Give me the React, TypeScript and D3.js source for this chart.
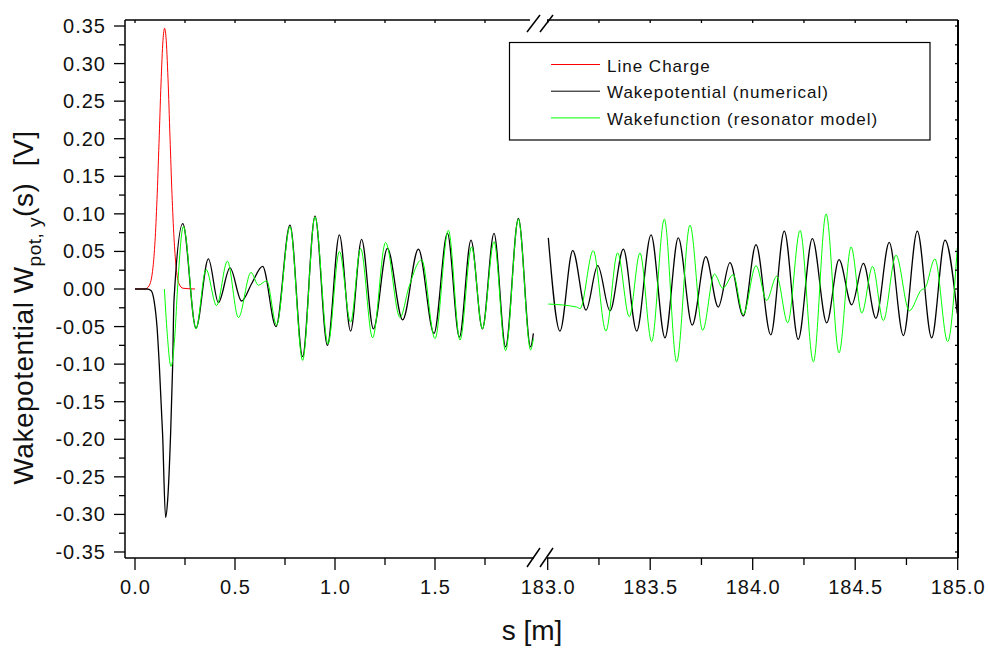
import React from "react";
import * as d3 from "d3";

// ---------- DATA ----------
const lineChargeLeft: [number, number][] = [
  [0, 0], [0.05, 0], [0.07, 0.004], [0.09, 0.029], [0.1, 0.063], [0.11, 0.119], [0.12, 0.194],
  [0.13, 0.273], [0.14, 0.331], [0.148, 0.347], [0.155, 0.335], [0.165, 0.28], [0.175, 0.202],
  [0.185, 0.126], [0.195, 0.068], [0.205, 0.031], [0.22, 0.007], [0.24, 0.001], [0.3, 0],
];

const wakeNumLeft: [number, number][] = [
  [0, 0], [0.06, 0], [0.08, -0.002], [0.095, -0.015], [0.11, -0.05], [0.122, -0.104], [0.138, -0.193],
  [0.153, -0.304], [0.163, -0.282], [0.178, -0.193], [0.188, -0.104], [0.195, -0.015], [0.239, 0.087],
  [0.305, -0.052], [0.367, 0.04], [0.417, -0.018], [0.475, 0.028], [0.533, -0.016], [0.585, 0.008],
  [0.638, 0.03], [0.705, -0.05], [0.775, 0.085], [0.838, -0.09], [0.9, 0.097], [0.962, -0.075],
  [1.022, 0.072], [1.078, -0.056], [1.133, 0.066], [1.192, -0.053], [1.262, 0.054], [1.338, -0.041],
  [1.417, 0.053], [1.495, -0.059], [1.562, 0.074], [1.622, -0.064], [1.68, 0.065], [1.737, -0.053],
  [1.795, 0.074], [1.853, -0.077], [1.917, 0.094], [1.978, -0.077], [1.992, -0.059],
];

const wakeResLeft: [number, number][] = [
  [0.147, 0], [0.161, -0.059], [0.18, -0.103], [0.2, -0.059], [0.2125, 0], [0.242, 0.083],
  [0.305, -0.053], [0.355, 0.026], [0.408, -0.022], [0.462, 0.037], [0.517, -0.038], [0.58, 0.022],
  [0.617, 0.005], [0.658, 0.011], [0.708, -0.048], [0.775, 0.083], [0.838, -0.095], [0.9, 0.096],
  [0.965, -0.073], [1.022, 0.05], [1.078, -0.044], [1.128, 0.054], [1.188, -0.065], [1.253, 0.062],
  [1.325, -0.038], [1.37, 0.003], [1.433, 0.039], [1.5, -0.066], [1.567, 0.078], [1.625, -0.068],
  [1.683, 0.056], [1.737, -0.053], [1.795, 0.063], [1.853, -0.082], [1.917, 0.093], [1.978, -0.081],
  [1.992, -0.066],
];

const wakeNumRight: [number, number][] = [
  [183.003, 0.068], [183.06, -0.056], [183.122, 0.051], [183.187, -0.028], [183.244, 0.031],
  [183.304, -0.029], [183.369, 0.053], [183.434, -0.056], [183.504, 0.072], [183.572, -0.065],
  [183.637, 0.068], [183.705, -0.048], [183.771, 0.043], [183.832, -0.024], [183.889, 0.035],
  [183.954, -0.036], [184.016, 0.059], [184.088, -0.061], [184.154, 0.077], [184.222, -0.067],
  [184.291, 0.067], [184.361, -0.045], [184.421, 0.039], [184.483, -0.021], [184.54, 0.034],
  [184.601, -0.039], [184.666, 0.062], [184.735, -0.062], [184.803, 0.077], [184.873, -0.065],
  [184.938, 0.065], [184.998, -0.033],
];

const wakeResRight: [number, number][] = [
  [183.003, -0.02], [183.141, -0.024], [183.158, -0.026], [183.222, 0.051], [183.284, -0.056],
  [183.341, 0.048], [183.398, -0.037], [183.45, 0.048], [183.507, -0.07], [183.569, 0.093],
  [183.629, -0.097], [183.694, 0.085], [183.756, -0.055], [183.813, 0.02], [183.854, 0.001],
  [183.905, 0.019], [183.954, -0.034], [184.016, 0.031], [184.068, -0.015], [184.117, 0.017],
  [184.171, -0.045], [184.231, 0.078], [184.296, -0.097], [184.358, 0.1], [184.421, -0.085],
  [184.48, 0.056], [184.532, -0.032], [184.585, 0.03], [184.637, -0.042], [184.699, 0.045],
  [184.764, -0.029], [184.824, -0.001], [184.84, 0.001], [184.889, 0.04], [184.951, -0.07],
  [184.998, 0.055],
];

const yMajorTicks = [-0.35, -0.3, -0.25, -0.2, -0.15, -0.1, -0.05, 0, 0.05, 0.1, 0.15, 0.2, 0.25, 0.3, 0.35];
const yMinorTicks = [-0.325, -0.275, -0.225, -0.175, -0.125, -0.075, -0.025, 0.025, 0.075, 0.125, 0.175, 0.225, 0.275, 0.325];
const xMajorLeft = [0, 0.5, 1.0, 1.5];
const xMinorLeft = [0.25, 0.75, 1.25, 1.75];
const xMajorRight = [183.0, 183.5, 184.0, 184.5, 185.0];
const xMinorRight = [183.25, 183.75, 184.25, 184.75];

const legendLabels = ["Line Charge", "Wakepotential (numerical)", "Wakefunction (resonator model)"];
const legendColors = ["#ff0000", "#000000", "#00ff00"];

// ---------- LAYOUT ----------
const W = 988;
const H = 648;
const TOP = 20;
const BOTTOM = 558;
const LEFT = 125;
const RIGHT = 958;
const FONT = "'Liberation Sans', Arial, Helvetica, sans-serif";

export default function App() {
  const y = d3.scaleLinear().domain([-0.358, 0.358]).range([BOTTOM, TOP]);
  const xL = d3.scaleLinear().domain([-0.05, 2.0]).range([LEFT, 535]);
  const xR = d3.scaleLinear().domain([183, 185]).range([547.7, 957.7]);

  const lineL = d3.line<[number, number]>().x((d) => xL(d[0])).y((d) => y(d[1])).curve(d3.curveMonotoneX);
  const lineR = d3.line<[number, number]>().x((d) => xR(d[0])).y((d) => y(d[1])).curve(d3.curveMonotoneX);

  const breakL = 534;
  const breakR = 547;

  const slashes = (cy: number, top: boolean) => {
    const h = top ? [32, 15] : [567, 548];
    return (
      <g stroke="#000" strokeWidth={1.5}>
        <line x1={527} y1={h[0]} x2={540} y2={h[1]} />
        <line x1={540} y1={h[0]} x2={553} y2={h[1]} />
      </g>
    );
  };

  return (
    <svg
      width={W}
      height={H}
      style={{ position: "absolute", left: 0, top: 0, display: "block", background: "#fff" }}
      fontFamily={FONT}
    >
      <rect x={0} y={0} width={W} height={H} fill="#fff" />

      {/* curves */}
      <g fill="none">
        <path d={lineL(lineChargeLeft) || ""} stroke="#ff0000" strokeWidth={1} />
        <path d={lineL(wakeNumLeft) || ""} stroke="#000" strokeWidth={1.3} />
        <path d={lineL(wakeResLeft) || ""} stroke="#00ff00" strokeWidth={1} />
        <path d={lineR(wakeNumRight) || ""} stroke="#000" strokeWidth={1.3} />
        <path d={lineR(wakeResRight) || ""} stroke="#00ff00" strokeWidth={1} />
      </g>

      {/* frame */}
      <g stroke="#000" strokeWidth={1.5}>
        <line x1={LEFT} y1={TOP} x2={LEFT} y2={BOTTOM} />
        <line x1={RIGHT} y1={TOP} x2={RIGHT} y2={BOTTOM} strokeWidth={2} />
        <line x1={LEFT} y1={BOTTOM} x2={breakL} y2={BOTTOM} />
        <line x1={breakR} y1={BOTTOM} x2={RIGHT} y2={BOTTOM} />
        <line x1={LEFT} y1={TOP} x2={breakL - 4} y2={TOP} />
        <line x1={breakR} y1={TOP} x2={RIGHT} y2={TOP} />
      </g>
      {slashes(BOTTOM, false)}
      {slashes(TOP, true)}

      {/* y ticks */}
      <g stroke="#000" strokeWidth={1.3}>
        {yMajorTicks.map((t) => (
          <line key={"ym" + t} x1={LEFT - 11} x2={LEFT} y1={y(t)} y2={y(t)} />
        ))}
        {yMinorTicks.map((t) => (
          <line key={"yn" + t} x1={LEFT - 6} x2={LEFT} y1={y(t)} y2={y(t)} />
        ))}
        {yMajorTicks.concat(yMinorTicks).map((t) => (
          <line key={"yr" + t} x1={RIGHT - 3} x2={RIGHT} y1={y(t)} y2={y(t)} />
        ))}
      </g>
      <g fontSize={20} letterSpacing={1} textAnchor="end" fill="#111">
        {yMajorTicks.map((t) => (
          <text key={"yl" + t} x={106} y={y(t) + 7}>
            {t.toFixed(2)}
          </text>
        ))}
      </g>

      {/* x ticks */}
      <g stroke="#000" strokeWidth={1.3}>
        {xMajorLeft.map((t) => (
          <line key={"xlm" + t} x1={xL(t)} x2={xL(t)} y1={BOTTOM} y2={BOTTOM + 12} />
        ))}
        {xMinorLeft.map((t) => (
          <line key={"xln" + t} x1={xL(t)} x2={xL(t)} y1={BOTTOM} y2={BOTTOM + 7} />
        ))}
        {xMajorRight.map((t) => (
          <line key={"xrm" + t} x1={xR(t)} x2={xR(t)} y1={BOTTOM} y2={BOTTOM + 12} />
        ))}
        {xMinorRight.map((t) => (
          <line key={"xrn" + t} x1={xR(t)} x2={xR(t)} y1={BOTTOM} y2={BOTTOM + 7} />
        ))}
        {xMajorLeft.concat(xMinorLeft).map((t) => (
          <line key={"xlt" + t} x1={xL(t)} x2={xL(t)} y1={TOP} y2={TOP + 3} />
        ))}
        {xMajorRight.concat(xMinorRight).map((t) => (
          <line key={"xrt" + t} x1={xR(t)} x2={xR(t)} y1={TOP} y2={TOP + 3} />
        ))}
      </g>
      <g fontSize={20} letterSpacing={1} textAnchor="middle" fill="#111">
        {xMajorLeft.map((t) => (
          <text key={"xll" + t} x={xL(t) + 0.5} y={594}>
            {t.toFixed(1)}
          </text>
        ))}
        {xMajorRight.map((t) => (
          <text key={"xrl" + t} x={xR(t) + 0.5} y={594}>
            {t.toFixed(1)}
          </text>
        ))}
      </g>

      {/* axis titles */}
      <text x={532} y={640} fontSize={28} textAnchor="middle" fill="#111">
        s [m]
      </text>
      <text
        transform="translate(33,307.5) rotate(-90)"
        fontSize={28}
        letterSpacing={0.5}
        textAnchor="middle"
        fill="#111"
        style={{ whiteSpace: "pre" }}
      >
        <tspan>Wakepotential W</tspan>
        <tspan fontSize={19} dy={8}>pot, y</tspan>
        <tspan dy={-8}>{"(s)  [V]"}</tspan>
      </text>

      {/* legend */}
      <rect x={509.5} y={42.5} width={420.5} height={97.5} fill="#fff" stroke="#000" strokeWidth={1.2} />
      {legendLabels.map((lab, i) => {
        const base = 71.5 + i * 26.7;
        return (
          <g key={lab}>
            <line x1={551} x2={600} y1={base - 7} y2={base - 7} stroke={legendColors[i]} strokeWidth={1} />
            <text x={607} y={base} fontSize={17} letterSpacing={1} fill="#111">
              {lab}
            </text>
          </g>
        );
      })}
    </svg>
  );
}
